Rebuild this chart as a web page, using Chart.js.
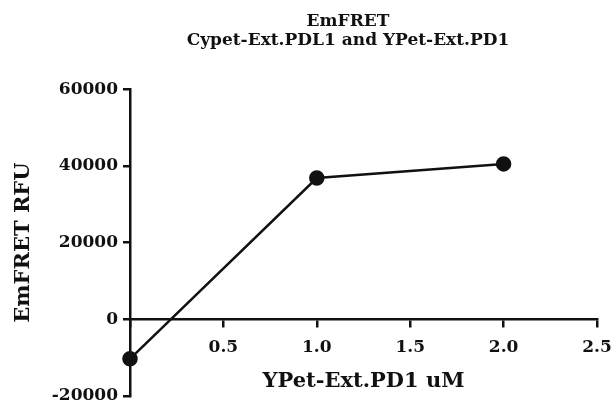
<!DOCTYPE html>
<html>
<head>
<meta charset="utf-8">
<script src="https://cdn.jsdelivr.net/npm/chart.js@4.4.1/dist/chart.umd.min.js"></script>
<style>
  html, body { margin: 0; padding: 0; background: #fff; }
  #wrap { width: 612px; height: 407px; }
</style>
</head>
<body>
<div id="wrap"><canvas id="c"></canvas></div>
<script>
const concentrations = [0, 1.0, 2.0];
const emfretValues = [-10300, 36800, 40500];
const xTickValues = [0, 0.5, 1.0, 1.5, 2.0, 2.5];
const yTickValues = [-20000, 0, 20000, 40000, 60000];
const titleLines = ['EmFRET', 'Cypet-Ext.PDL1 and YPet-Ext.PD1'];
const xTitle = 'YPet-Ext.PD1 uM';
const yTitle = 'EmFRET RFU';

const FONT = 'DejaVu Serif';
const INK = '#111';

const points = concentrations.map((x, i) => ({ x: x, y: emfretValues[i] }));

const titleShift = {
  id: 'titleShift',
  afterLayout(chart) {
    const t = chart.titleBlock;
    if (t) { t.left = 84; t.right = 612; }
  }
};

new Chart(document.getElementById('c'), {
  type: 'line',
  data: {
    datasets: [{
      data: points,
      borderColor: INK,
      backgroundColor: INK,
      borderWidth: 2.5,
      pointRadius: 6.5,
      pointHoverRadius: 6.5,
      pointBackgroundColor: INK,
      pointBorderColor: INK,
      tension: 0,
      clip: false
    }]
  },
  options: {
    responsive: true,
    maintainAspectRatio: false,
    animation: false,
    events: [],
    layout: { padding: { left: 0, right: 15, top: 0, bottom: 11 } },
    plugins: {
      legend: { display: false },
      tooltip: { enabled: false },
      title: {
        display: true,
        text: titleLines,
        color: INK,
        font: { family: FONT, size: 17, weight: 'bold', lineHeight: 1.12 },
        padding: { top: 12, bottom: 39 }
      }
    },
    scales: {
      x: {
        type: 'linear',
        position: { y: 0 },
        min: xTickValues[0],
        max: xTickValues[xTickValues.length - 1],
        afterBuildTicks(scale) { scale.ticks = xTickValues.map(v => ({ value: v })); },
        afterFit(scale) { scale.paddingLeft = 0; scale.paddingRight = 0; },
        ticks: {
          color: INK,
          font: { family: FONT, size: 17, weight: 'bold' },
          padding: 11,
          maxRotation: 0,
          autoSkip: false,
          callback: v => (v === 0 ? '' : Number(v).toFixed(1))
        },
        grid: { drawOnChartArea: false, drawTicks: true, tickLength: 7, color: INK, lineWidth: 2.5 },
        border: { display: true, color: INK, width: 2.5 },
        title: {
          display: true,
          text: xTitle,
          color: INK,
          font: { family: FONT, size: 21, weight: 'bold' },
          padding: { top: 0, bottom: 0 }
        }
      },
      y: {
        type: 'linear',
        position: 'left',
        min: yTickValues[0],
        max: yTickValues[yTickValues.length - 1],
        afterBuildTicks(scale) { scale.ticks = yTickValues.map(v => ({ value: v })); },
        afterFit(scale) { scale.width = 130; scale.paddingTop = 0; scale.paddingBottom = 0; },
        ticks: {
          color: INK,
          font: { family: FONT, size: 17, weight: 'bold' },
          padding: 5,
          autoSkip: false,
          callback: v => String(v)
        },
        grid: { drawOnChartArea: false, drawTicks: true, tickLength: 7, color: INK, lineWidth: 2.5 },
        border: { display: true, color: INK, width: 2.5 },
        title: {
          display: true,
          text: yTitle,
          color: INK,
          font: { family: FONT, size: 21, weight: 'bold' },
          padding: { top: 11, bottom: 4 }
        }
      }
    }
  },
  plugins: [titleShift]
});
</script>
</body>
</html>
